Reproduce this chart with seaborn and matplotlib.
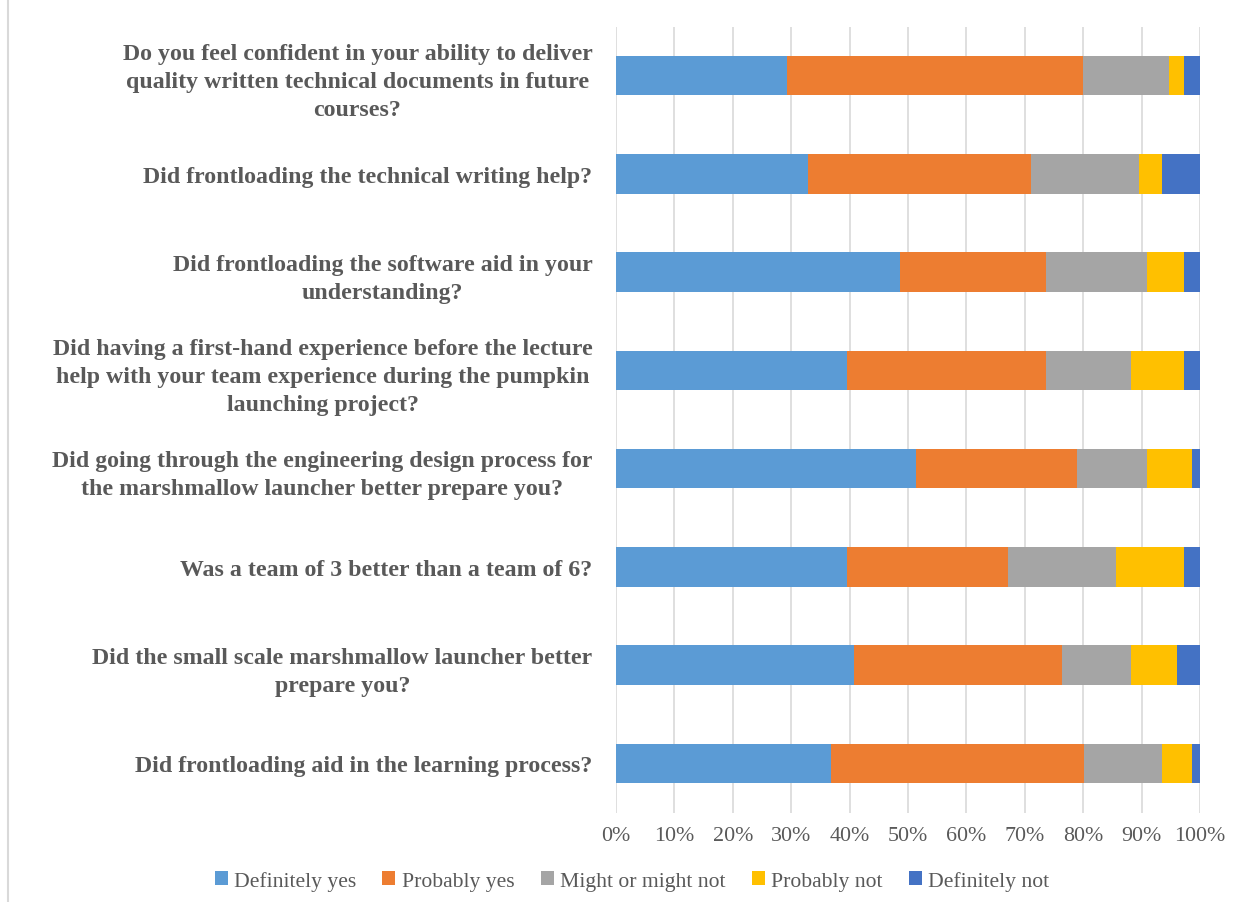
import numpy as np
import pandas as pd
import seaborn as sns
import matplotlib.pyplot as plt
from matplotlib.patches import Patch
from matplotlib.lines import Line2D

# survey questions, top to bottom
questions = [
    "Do you feel confident in your ability to deliver\nquality written technical documents in future\ncourses?",
    "Did frontloading the technical writing help?",
    "Did frontloading the software aid in your\nunderstanding?",
    "Did having a first-hand experience before the lecture\nhelp with your team experience during the pumpkin\nlaunching project?",
    "Did going through the engineering design process for\nthe marshmallow launcher better prepare you?",
    "Was a team of 3 better than a team of 6?",
    "Did the small scale marshmallow launcher better\nprepare you?",
    "Did frontloading aid in the learning process?",
]

# percent of answers per question
definitely_yes = [29.2, 32.9, 48.6, 39.5, 51.3, 39.5, 40.7, 36.8]
probably_yes = [50.7, 38.1, 25.1, 34.2, 27.6, 27.6, 35.6, 43.4]
might_or_might_not = [14.8, 18.5, 17.2, 14.4, 12.0, 18.5, 11.8, 13.3]
probably_not = [2.6, 4.0, 6.4, 9.2, 7.8, 11.7, 7.9, 5.2]
definitely_not = [2.7, 6.5, 2.7, 2.7, 1.3, 2.7, 4.0, 1.3]

responses = ["Definitely yes", "Probably yes", "Might or might not", "Probably not", "Definitely not"]
colors = ["#5B9BD5", "#ED7D31", "#A5A5A5", "#FFC000", "#4472C4"]

df = pd.DataFrame({
    "Definitely yes": definitely_yes,
    "Probably yes": probably_yes,
    "Might or might not": might_or_might_not,
    "Probably not": probably_not,
    "Definitely not": definitely_not,
}, index=questions)
df = df.div(df.sum(axis=1), axis=0) * 100
cum = df.cumsum(axis=1)
cum["question"] = questions

sns.set_style("white")
plt.rcParams["font.family"] = ["Liberation Serif", "DejaVu Serif"]

fig = plt.figure(figsize=(12.44, 9.03), dpi=100)
ax = fig.add_axes([616 / 1244, 1 - 813.5 / 903, 584 / 1244, 786 / 903])

# stacked bars: draw the widest cumulative first
for resp, color in reversed(list(zip(responses, colors))):
    sns.barplot(data=cum, x=resp, y="question", orient="h", color=color,
                saturation=1, width=0.4, linewidth=0, errorbar=None, ax=ax)

ax.set_xlim(0, 100)
ax.set_xticks(np.arange(0, 101, 10))
ax.set_xticklabels([f"{v}%" for v in range(0, 101, 10)])
ax.set_xlabel("")
ax.set_ylabel("")
ax.xaxis.grid(True, color="#d9d9d9", linewidth=1.2)
ax.set_axisbelow(True)
for s in ax.spines.values():
    s.set_visible(False)
ax.tick_params(axis="x", length=0, pad=10, labelsize=15.8, labelcolor="#595959")
ax.tick_params(axis="y", length=0, pad=17, labelcolor="#595959")
for lab in ax.get_yticklabels():
    lab.set_fontweight("bold")
    lab.set_fontsize(17.2)
    lab.set_multialignment("center")
    lab.set_linespacing(1.45)

handles = [Patch(facecolor=c, edgecolor="none") for c in colors]
fig.legend(handles, responses, loc="center", bbox_to_anchor=(0.508, 1 - 882 / 903),
           ncol=5, frameon=False, fontsize=15.6, labelcolor="#595959",
           handlelength=0.6, handleheight=0.6, handletextpad=0.3, columnspacing=1.2)

# chart border on the left
fig.add_artist(Line2D([8 / 1244, 8 / 1244], [0, 1], transform=fig.transFigure,
                      color="#d9d9d9", linewidth=1.5))

fig.savefig("out.png", dpi=100)
